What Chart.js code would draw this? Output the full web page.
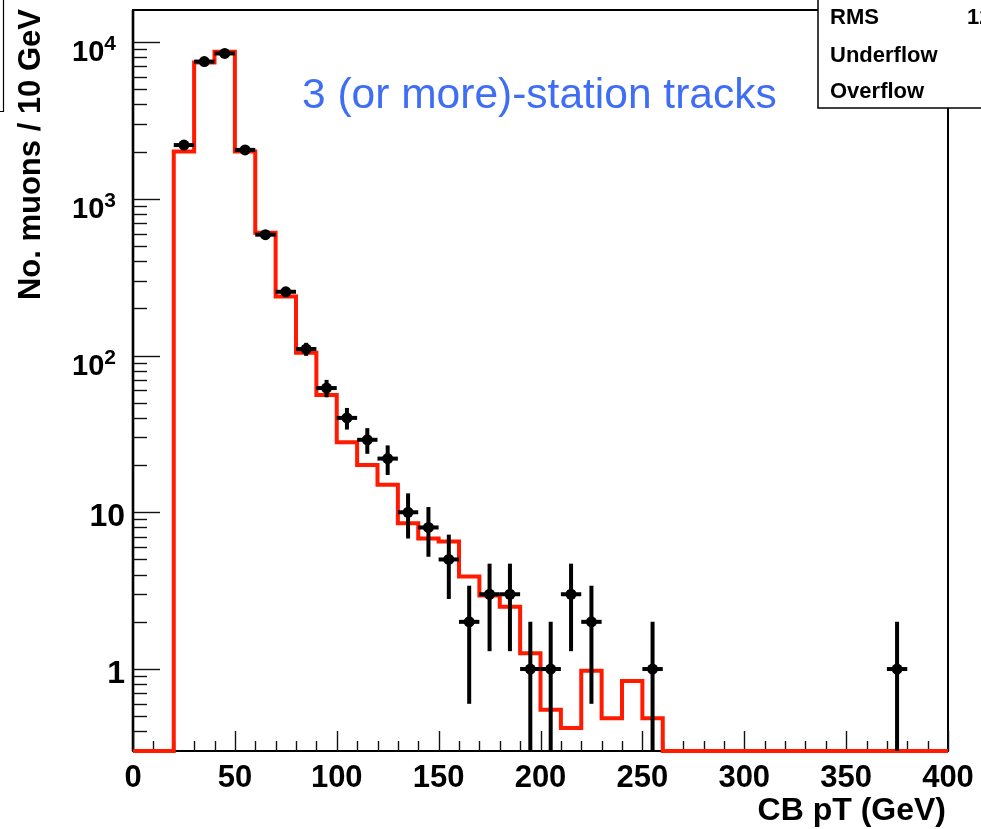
<!DOCTYPE html>
<html><head><meta charset="utf-8">
<script src="https://cdn.jsdelivr.net/npm/chart.js@4.4.1/dist/chart.umd.min.js"></script>
<style>html,body{margin:0;padding:0;background:#fff;overflow:hidden}#wrap{position:relative;width:981px;height:829px}</style>
</head><body><div id="wrap"><canvas id="c" width="981" height="829"></canvas></div>
<script>
// ---- data ----
const binLowEdges = [0,10,20,30,40,50,60,70,80,90,100,110,120,130,140,150,160,170,180,190,200,210,220,230,240,250,260,270,280,290,300,310,320,330,340,350,360,370,380,390];
const binUpperEdge = 400;
const mcCounts = [0,0,2000,7400,8650,2000,606,238,104,56,28,20,15,8.5,6.8,6.5,3.9,2.95,2.5,1.26,0.55,0.42,0.975,0.485,0.84,0.485,0,0,0,0,0,0,0,0,0,0,0,0,0,0];
const dataPt = [25,35,45,55,65,75,85,95,105,115,125,135,145,155,165,175,185,195,205,215,225,255,375];
const dataCounts = [2200,7500,8450,2050,590,255,110,62,40,29,22,10,8,5,2,3,3,1,1,3,2,1,1];
const dataErrUp = [47,87,92,45,24,16,10.5,7.9,6.3,5.4,4.7,3.2,2.8,2.2,1.4,1.7,1.7,1,1,1.7,1.4,1,1];
const dataErrDown = [47,87,92,45,24,16,10.5,7.9,6.3,5.4,4.7,3.2,2.8,2.2,1.4,1.7,1.7,1,1,1.7,1.4,1,1];
const binHalfWidth = 5;
const xTickValues = [0,50,100,150,200,250,300,350,400];
const xTickLabels = ["0","50","100","150","200","250","300","350","400"];
const yTickValues = [1,10,100,1000,10000];
const yTickLabels = ["1","10","10^2","10^3","10^4"];
const xTitle = "CB pT (GeV)";
const yTitle = "No. muons / 10 GeV";
const annotation = "3 (or more)-station tracks";
const statsLabels = ["RMS","Underflow","Overflow"];
const statsValues = ["12","",""];
const Y_MIN = 0.3, Y_MAX = 16000;

// ---- build datasets ----
const histPts = binLowEdges.map((e,i)=>({x:e, y: mcCounts[i] > 0 ? mcCounts[i] : Y_MIN}));
histPts.push({x:binUpperEdge, y: mcCounts[mcCounts.length-1] > 0 ? mcCounts[mcCounts.length-1] : Y_MIN});
const dataPts = dataPt.map((x,i)=>({x:x, y:dataCounts[i]}));

const FONT = '"Liberation Sans", Arial, Helvetica, sans-serif';

const rootStyle = {
  id:'rootStyle',
  beforeDatasetsDraw(chart){
    const {ctx, chartArea:a, scales:{x, y}} = chart;
    ctx.save();
    ctx.fillStyle='#fff';
    ctx.fillRect(a.left,a.top,a.right-a.left,a.bottom-a.top);
    // frame
    ctx.strokeStyle='#000';
    ctx.lineWidth=2;
    ctx.strokeRect(a.left, a.top, a.right-a.left, a.bottom-a.top);
    ctx.lineWidth=2.6;
    ctx.beginPath(); ctx.moveTo(a.left, a.top); ctx.lineTo(a.left, a.bottom); ctx.stroke();
    // y ticks
    ctx.lineWidth=1.4;
    ctx.strokeStyle='#111';
    for(let d=-1; d<=4; d++){
      for(let m=1; m<=9; m++){
        const v = m*Math.pow(10,d);
        if(v < Y_MIN*0.999 || v > Y_MAX) continue;
        const py = Math.round(y.getPixelForValue(v))+0.5;
        const len = m===1 ? 27 : 14;
        ctx.beginPath(); ctx.moveTo(a.left, py); ctx.lineTo(a.left+len, py); ctx.stroke();
      }
    }
    // x ticks
    for(let v=0; v<=400; v+=10){
      const px = Math.round(x.getPixelForValue(v))+0.5;
      const len = v%50===0 ? 20 : 10;
      ctx.beginPath(); ctx.moveTo(px, a.bottom); ctx.lineTo(px, a.bottom-len); ctx.stroke();
    }
    ctx.restore();
  },
  afterDatasetsDraw(chart){
    const {ctx, chartArea:a, scales:{x, y}} = chart;
    ctx.save();
    ctx.strokeStyle='#000';
    ctx.lineWidth=4;
    ctx.lineCap='butt';
    dataPt.forEach((xc,i)=>{
      const v = dataCounts[i];
      const px = x.getPixelForValue(xc);
      const py = y.getPixelForValue(v);
      const hi = v + dataErrUp[i];
      const lo = v - dataErrDown[i];
      const pyHi = y.getPixelForValue(hi);
      const pyLo = lo > Y_MIN ? y.getPixelForValue(lo) : a.bottom;
      ctx.beginPath(); ctx.moveTo(px, pyHi); ctx.lineTo(px, pyLo); ctx.stroke();
      const pxL = x.getPixelForValue(xc-binHalfWidth);
      const pxR = x.getPixelForValue(xc+binHalfWidth);
      ctx.beginPath(); ctx.moveTo(pxL, py); ctx.lineTo(pxR, py); ctx.stroke();
    });
    ctx.restore();
  },
  afterDraw(chart){
    const {ctx, chartArea:a, scales:{x, y}} = chart;
    ctx.save();
    ctx.fillStyle='#000';
    // y labels
    yTickValues.forEach((v,i)=>{
      const py = y.getPixelForValue(v);
      const lab = yTickLabels[i];
      if(lab.indexOf('^')>=0){
        const [base, exp] = lab.split('^');
        ctx.font = 'bold 29px '+FONT;
        const wb = ctx.measureText(base).width;
        ctx.font = 'bold 21px '+FONT;
        const we = ctx.measureText(exp).width;
        const x0 = 116 - wb - we;
        ctx.font = 'bold 29px '+FONT;
        ctx.textAlign='left'; ctx.textBaseline='alphabetic';
        ctx.fillText(base, x0, py+19.5);
        ctx.font = 'bold 21px '+FONT;
        ctx.fillText(exp, x0+wb, py+8.5);
      } else {
        ctx.font = 'bold 32px '+FONT;
        ctx.textAlign='right'; ctx.textBaseline='alphabetic';
        ctx.fillText(lab, 125, py+14);
      }
    });
    // x labels
    ctx.font = 'bold 31px '+FONT;
    ctx.textAlign='center'; ctx.textBaseline='alphabetic';
    xTickValues.forEach((v,i)=>{
      ctx.fillText(xTickLabels[i], x.getPixelForValue(v), 787);
    });
    // axis titles
    ctx.font = 'bold 32px '+FONT;
    ctx.textAlign='right';
    ctx.fillText(xTitle, 946, 820);
    ctx.save();
    ctx.translate(40, 9);
    ctx.rotate(-Math.PI/2);
    ctx.textAlign='right';
    ctx.font = 'bold 31px '+FONT;
    ctx.fillText(yTitle, 0, 0);
    ctx.restore();
    // annotation
    ctx.font = '42.5px '+FONT;
    ctx.fillStyle='#3f6ef5';
    ctx.textAlign='left';
    ctx.fillText(annotation, 302, 107.5);
    // stats box
    ctx.fillStyle='#fff';
    ctx.fillRect(818, -5, 200, 113);
    ctx.strokeStyle='#000'; ctx.lineWidth=1.5;
    ctx.strokeRect(818, -5, 200, 113);
    ctx.fillStyle='#000';
    ctx.font = 'bold 22px '+FONT;
    ctx.textAlign='left';
    const sy = [24, 62, 98];
    statsLabels.forEach((s,i)=>{ ctx.fillText(s, 830, sy[i]); if(statsValues[i]) ctx.fillText(statsValues[i], 967, sy[i]); });
    // partial box at left edge
    ctx.lineWidth=1.2;
    ctx.beginPath(); ctx.moveTo(3.5, 0); ctx.lineTo(3.5, 111.5); ctx.lineTo(-2, 111.5); ctx.stroke();
    ctx.restore();
  }
};

new Chart(document.getElementById('c'), {
  type:'scatter',
  data:{ datasets:[
    { label:'data', data:dataPts, backgroundColor:'#000', borderColor:'#000', pointRadius:5.5, pointBorderWidth:0, showLine:false, order:0 },
    { label:'MC', type:'line', data:histPts, stepped:'before', borderColor:'#ff1a00', borderWidth:4, pointRadius:0, fill:false, clip:false, borderJoinStyle:'miter', order:1 }
  ]},
  options:{
    responsive:false, animation:false, devicePixelRatio:1,
    layout:{ padding:{ left:133, top:10, right:33, bottom:78 } },
    plugins:{ legend:{display:false}, tooltip:{enabled:false} },
    scales:{
      x:{ type:'linear', min:0, max:400, display:false },
      y:{ type:'logarithmic', min:Y_MIN, max:Y_MAX, display:false }
    }
  },
  plugins:[rootStyle]
});
</script></body></html>
